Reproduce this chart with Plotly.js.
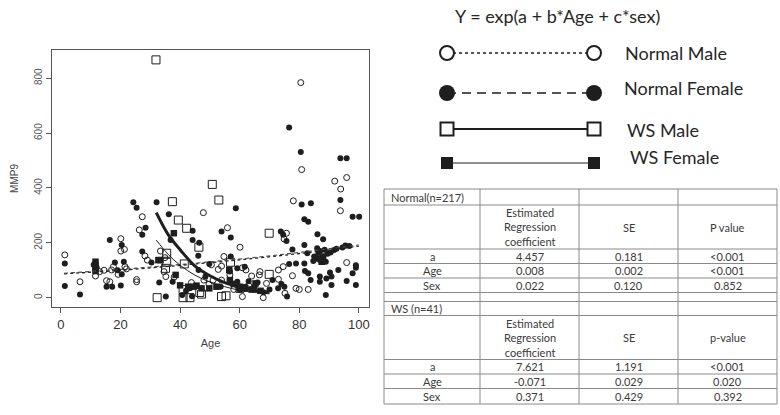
<!DOCTYPE html>
<html>
<head>
<meta charset="utf-8">
<script src="https://cdn.plot.ly/plotly-3.0.1.min.js"></script>
<style>
  html, body { margin: 0; padding: 0; background: #fff; }
  #chart { width: 780px; height: 415px; }
</style>
</head>
<body>
<div id="chart"></div>
<script>
// Normal male (open circles)
var nmAge = [1.3, 6.4, 11.6, 15.3, 16.4, 17, 17.6, 19.2, 20.1, 20.1, 21.3, 21.5, 25.4, 25.4, 27.3, 26.3, 28.2, 29,
  33.4, 34.9, 34.6, 35.2, 43.8, 47.8, 48, 49.7, 51.1, 52.8, 53.9, 53.9, 54.7, 55.9, 56.7, 60.1, 60.9, 60.9, 62.1,
  64, 66.6, 66.8, 67.9, 69, 73, 73, 74.6, 75.2, 74.9, 75.7, 78, 77.7, 78.9, 80, 80.5, 80.8, 83, 91.9, 93.9, 93.8,
  95.9, 95.9, 13, 14.5, 22, 58, 63, 50.5, 38];
var nmVal = [156, 58, 79, 62, 58, 101, 113, 85, 215, 170, 176, 113, 58, 66, 295, 247, 152, 137,
  170, 146, 95, 77, 55, 310, 64, 49, 64, 103, 115, 64, 150, 255, 83, 184, 109, 4, 101,
  79, 83, 95, 0, 52, 101, 67, 113, 16, 214, 235, 353, 80, 34, 30, 784, 467, 30, 425, 396, 317,
  438, 128, 95, 100, 105, 30, 45, 120, 75];

// Normal female (filled circles)
var nfAge = [1.3, 1.3, 6.4, 16.4, 15.3, 17.2, 18.1, 20.4, 20.4, 20.1, 21.1, 19, 24.3, 25.4, 27.3, 27.3, 28.4, 30.4,
  32.1, 35.2, 36.2, 36.8, 37.5, 40.7, 44.2, 44.2, 43.3, 46.4, 46.1, 46.2, 48.5, 49.8, 53.9, 53.6, 57, 57, 56.7,
  58.7, 59.2, 59.2, 61.7, 63, 65, 71, 72.9, 73.8, 74.6, 75.7, 75.9, 76.6, 77.7, 76.6, 78.9, 80.5, 80.8, 83.9,
  81.7, 83, 81.7, 82.7, 81.7, 81.9, 83, 83.8, 84.7, 86.1, 86.9, 86.9, 86.9, 88, 88.9, 88.9, 89.1, 90.3, 90.8,
  90.8, 91.7, 93.1, 93.8, 93.8, 95.9, 95.9, 96.8, 97.9, 97.9, 99, 99, 100.1, 86, 87, 88.5, 89.5, 90.5, 92.5,
  94.5, 95.5, 85, 99, 11, 12, 33, 42, 44, 60, 62, 66, 68, 70, 74, 75];
var nfVal = [125, 43, 12, 210, 40, 40, 128, 192, 85, 44, 131, 100, 348, 328, 229, 168, 255, 128,
  348, 4, 304, 210, 58, 10, 244, 210, 34, 200, 153, 101, 77, 123, 241, 40, 219, 150, 95,
  326, 107, 58, 113, 60, 40, 64, 34, 241, 229, 207, 4, 620, 176, 123, 125, 531, 340, 344,
  286, 277, 192, 162, 125, 97, 89, 64, 134, 231, 137, 77, 58, 213, 131, 10, 70, 92, 77,
  46, 174, 101, 508, 356, 508, 61, 188, 295, 89, 109, 46, 295, 180, 170, 175, 160, 165, 178,
  183, 190, 150, 118, 120, 110, 55, 25, 5, 28, 40, 55, 20, 30, 50, 40];

// WS male (open squares)
var wmAge = [31.9, 37.4, 39.4, 42.2, 46.3, 50.8, 53, 69.9, 69.9, 35.5, 35.5, 35.1, 41.4, 41, 41, 43.3, 46.6, 47.2,
  53.9, 55.4, 32.3, 56.9, 60.1];
var wmVal = [867, 350, 283, 253, 184, 413, 356, 235, 85, 162, 129, 107, 123, 30, 0, 0, 19, 13,
  4, 7, 0, 129, 34];

// WS female (filled squares)
var wfAge = [11.6, 11.6, 11.6, 11.6, 32.7, 33.4, 37.9, 38.5, 45.5, 42.7, 47.2, 49.8, 52.2, 56.5, 56.7, 59.9, 61.7,
  65.3, 86, 87.5, 88, 86.5, 58, 64, 67, 40, 44.5];
var wfVal = [131, 119, 105, 97, 137, 137, 235, 83, 44, 40, 34, 34, 40, 101, 64, 40, 34,
  52, 143, 131, 150, 165, 50, 30, 25, 45, 40];

// fitted curves
var normFitAge = [1, 20, 40, 60, 80, 100];
var normFitMale = [87, 100, 118, 138, 161, 188];
var normFitFemale = [89, 103, 121, 141, 165, 192];
var wsFitAge = [32, 36, 40, 45, 50, 55, 60, 65, 70];
var wsFitMale = [310, 230, 175, 115, 80, 55, 38, 27, 20];
var wsFitFemale = [210, 158, 118, 82, 57, 40, 27, 19, 14];

// table, one array per column
var colLabel = ['Normal(n=217)', '', 'a', 'Age', 'Sex', '', 'WS (n=41)', '', 'a', 'Age', 'Sex'];
var colCoef = ['', 'Estimated<br>Regression<br>coefficient', '4.457', '0.008', '0.022', '', '',
  'Estimated<br>Regression<br>coefficient', '7.621', '-0.071', '0.371'];
var colSE = ['', 'SE', '0.181', '0.002', '0.120', '', '', 'SE', '1.191', '0.029', '0.429'];
var colP = ['', 'P value', '&lt;0.001', '&lt;0.001', '0.852', '', '', 'p-value', '&lt;0.001', '0.020', '0.392'];

var legendNames = ['Normal Male', 'Normal Female', 'WS Male', 'WS Female'];

var W = 780, H = 415;
function px(x) { return x / W; }
function py(y) { return 1 - y / H; }

var ink = '#1e1e1e';

var data = [
  {x: nmAge, y: nmVal, type: 'scatter', mode: 'markers',
   marker: {symbol: 'circle-open', size: 6, color: ink, line: {width: 1}}},
  {x: nfAge, y: nfVal, type: 'scatter', mode: 'markers',
   marker: {symbol: 'circle', size: 6, color: ink}},
  {x: wmAge, y: wmVal, type: 'scatter', mode: 'markers',
   marker: {symbol: 'square-open', size: 8, color: ink, line: {width: 1}}},
  {x: wfAge, y: wfVal, type: 'scatter', mode: 'markers',
   marker: {symbol: 'square', size: 6.5, color: ink}},
  {x: normFitAge, y: normFitMale, type: 'scatter', mode: 'lines', line: {shape: 'spline', dash: 'dot', width: 1.3, color: ink}},
  {x: normFitAge, y: normFitFemale, type: 'scatter', mode: 'lines', line: {shape: 'spline', dash: '4px,3px', width: 1.1, color: '#444'}},
  {x: wsFitAge, y: wsFitMale, type: 'scatter', mode: 'lines', line: {shape: 'spline', width: 3, color: ink}},
  {x: wsFitAge, y: wsFitFemale, type: 'scatter', mode: 'lines', line: {shape: 'spline', width: 1, color: ink}}
];

// legend keys drawn on a hidden pixel-like overlay axis
var keyRows = [53, 93, 129, 163];
var keyStyles = [
  {m: {symbol: 'circle', size: 14, color: '#fff', line: {width: 2, color: ink}}, l: {dash: 'dot', width: 1.5, color: ink}},
  {m: {symbol: 'circle', size: 16, color: ink}, l: {dash: '9px,6px', width: 1.5, color: ink}},
  {m: {symbol: 'square', size: 13, color: '#fff', line: {width: 2, color: ink}}, l: {width: 2.2, color: ink}},
  {m: {symbol: 'square', size: 12, color: ink}, l: {width: 1.2, color: ink}}
];
keyStyles.forEach(function(s, i) {
  data.push({x: [447, 594], y: [keyRows[i], keyRows[i]], type: 'scatter', mode: 'lines+markers',
    xaxis: 'x2', yaxis: 'y2', marker: s.m, line: s.l, hoverinfo: 'skip'});
});

var annFont = {family: 'Lato, sans-serif', size: 18, color: '#262626'};
var labelPos = [[623, 53], [622, 88], [625, 130], [628, 157]];
var annotations = [{
  text: 'Y = exp(a + b*Age + c*sex)', xref: 'paper', yref: 'paper', x: px(557), y: py(16),
  xanchor: 'center', yanchor: 'middle', showarrow: false, font: annFont
}];
legendNames.forEach(function(n, i) {
  annotations.push({text: n, xref: 'paper', yref: 'paper', x: px(labelPos[i][0]), y: py(labelPos[i][1]),
    xanchor: 'left', yanchor: 'middle', showarrow: false, font: annFont});
});

// table grid
var colEdges = [384, 480, 579, 678, 777];
var rowHeights = [16, 44, 14.5, 14.5, 14.5, 9, 14, 44, 14.5, 14.5, 15.5];
var rowEdges = [189];
rowHeights.forEach(function(h) { rowEdges.push(rowEdges[rowEdges.length - 1] + h); });
var tableTop = rowEdges[0], tableBottom = rowEdges[rowEdges.length - 1];
var gridLine = {color: '#8a8a8a', width: 1};
var shapes = [];
rowEdges.forEach(function(y) {
  shapes.push({type: 'line', xref: 'paper', yref: 'paper', x0: px(colEdges[0]), x1: px(colEdges[4]),
    y0: py(y), y1: py(y), line: gridLine});
});
colEdges.forEach(function(x) {
  shapes.push({type: 'line', xref: 'paper', yref: 'paper', x0: px(x), x1: px(x),
    y0: py(tableTop), y1: py(tableBottom), line: gridLine});
});
var cellFont = {family: 'Lato, sans-serif', size: 11, color: '#3a3a3a'};
[colLabel, colCoef, colSE, colP].forEach(function(col, c) {
  col.forEach(function(t, r) {
    if (!t) return;
    var left = c === 0 && t.indexOf('(n=') >= 0;
    var yc = (rowEdges[r] + rowEdges[r + 1]) / 2;
    annotations.push({
      text: t, xref: 'paper', yref: 'paper', showarrow: false, font: cellFont,
      x: left ? px(colEdges[c] + 5) : px((colEdges[c] + colEdges[c + 1]) / 2),
      xanchor: left ? 'left' : 'center', y: py(yc), yanchor: 'middle', align: 'center'
    });
  });
});

var layout = {
  width: W, height: H,
  margin: {l: 0, r: 0, t: 0, b: 0},
  paper_bgcolor: '#fff', plot_bgcolor: 'rgba(0,0,0,0)',
  showlegend: false,
  font: {family: 'Liberation Sans, Arial, sans-serif', color: '#444'},
  xaxis: {
    domain: [px(52), px(369)], range: [-3, 103.4],
    tickvals: [0, 20, 40, 60, 80, 100], ticks: 'outside', ticklen: 5, tickcolor: '#555',
    showline: true, mirror: true, linecolor: '#555', linewidth: 1,
    showgrid: false, zeroline: false, tickfont: {size: 13, color: '#333'},
    title: {text: 'Age', font: {size: 11, color: '#444'}, standoff: 8}
  },
  yaxis: {
    domain: [py(307), py(50)], range: [-34, 903],
    tickvals: [0, 200, 400, 600, 800], ticks: 'outside', ticklen: 5, tickcolor: '#555',
    tickangle: -90, showline: true, mirror: true, linecolor: '#555', linewidth: 1,
    showgrid: false, zeroline: false, tickfont: {size: 10, color: '#555'},
    title: {text: 'MMP9', font: {size: 10, color: '#444'}, standoff: 12}
  },
  xaxis2: {domain: [0, 1], range: [0, W], visible: false, anchor: 'y2', fixedrange: true},
  yaxis2: {domain: [0, 1], range: [H, 0], visible: false, anchor: 'x2', fixedrange: true},
  shapes: shapes,
  annotations: annotations
};

Plotly.newPlot('chart', data, layout, {displayModeBar: false, staticPlot: true});
</script>
</body>
</html>
